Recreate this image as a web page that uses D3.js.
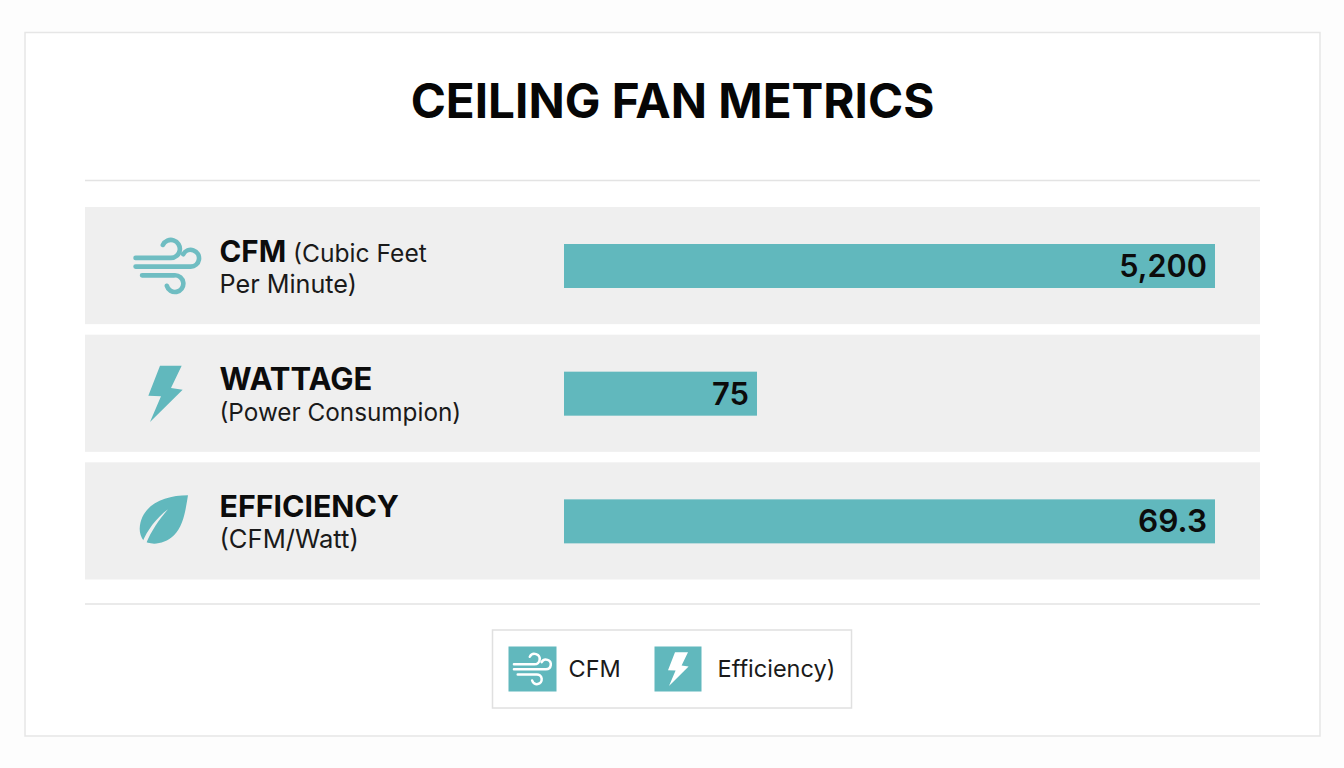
<!DOCTYPE html>
<html>
<head>
<meta charset="utf-8">
<script src="https://cdn.jsdelivr.net/npm/d3@7/dist/d3.min.js"></script>
<style>
  html, body { margin: 0; padding: 0; background: #fdfdfd; }
  svg { display: block; font-family: Inter, "Noto Sans", sans-serif; }
</style>
</head>
<body>
<svg id="chart" width="1344" height="768"></svg>
<script>
// Metric rows
const metrics = ["CFM", "WATTAGE", "EFFICIENCY"];
const values = [5200, 75, 69.3];
const valueLabels = ["5,200", "75", "69.3"];
// Each metric has its own unit, so each bar runs on its own full-scale value
const fullScale = [5200, 253, 69.3];
const headLines = ["CFM", "WATTAGE", "EFFICIENCY"];
const headTails = ["(Cubic Feet", "", ""];
const subLines = ["Per Minute)", "(Power Consumpion)", "(CFM/Watt)"];
const legendLabels = ["CFM", "Efficiency)"];
const titleText = "CEILING FAN METRICS";

const TEAL = "#61b8bd", ROW = "#efefef", RULE = "#e3e3e3", INK = "#0c0c0c";
const headSizes = [29.5, 31, 30.3], subSizes = [25.2, 24.3, 25.6], valueSizes = [30.6, 31, 31.6];

// Icon outlines, centred on their own origin
const windPath = "M-103,-26H11A29,29 0 1 0 -15,-68M-103,2H75A27,27 0 1 0 51,-38M-82,30H23A27,27 0 1 1 -2,64";
const boltPath = "M-15,-84H50L18,-17L53,-12L-45,85L-12,8L-50,6Z";
const leafPath = "M72,-75C0,-75 -70,-45 -73,25C-73,40 -68,50 -62,60C-45,75 0,75 30,45C60,15 65,-35 72,-75Z";
const leafVein = "M-66,68C-50,30 -25,-5 12,-33C-15,-2 -38,32 -54,70Z";

const svg = d3.select("#chart");

// Outer frame
svg.append("rect").attr("x", 25).attr("y", 32.5).attr("width", 1295).attr("height", 703.5)
  .attr("fill", "#ffffff").attr("stroke", "#e6e6e6").attr("stroke-width", 1.5);

svg.append("text").attr("x", 672.5).attr("y", 118).attr("text-anchor", "middle")
  .attr("font-size", 47.6).attr("font-weight", 700).attr("fill", "#060606").text(titleText);

// Rules above and below the rows
[180.5, 604].forEach(y => {
  svg.append("line").attr("x1", 85).attr("x2", 1260).attr("y1", y).attr("y2", y)
    .attr("stroke", RULE).attr("stroke-width", 1.5);
});

const y = d3.scaleBand().domain(metrics).range([207, 579.5]).paddingInner(0.0824);
const barLeft = 564, barRight = 1215, barHeight = 44;

const rows = svg.selectAll("g.row").data(metrics).join("g").attr("class", "row")
  .attr("transform", d => `translate(0,${y(d)})`);

rows.append("rect").attr("x", 85).attr("width", 1175).attr("height", y.bandwidth()).attr("fill", ROW);

rows.each(function(d, i) {
  const g = d3.select(this);
  const x = d3.scaleLinear().domain([0, fullScale[i]]).range([barLeft, barRight]);
  const end = x(values[i]);
  g.append("rect").attr("x", barLeft).attr("y", 37).attr("width", end - barLeft)
    .attr("height", barHeight).attr("fill", TEAL);
  g.append("text").attr("x", end - 8).attr("y", 70).attr("text-anchor", "end")
    .attr("font-size", valueSizes[i]).attr("font-weight", 600).attr("fill", INK).text(valueLabels[i]);

  const label = g.append("text").attr("x", 219.5).attr("y", 55)
    .attr("font-size", headSizes[i]).attr("font-weight", 700).attr("fill", INK);
  label.append("tspan").text(headLines[i]);
  if (headTails[i]) {
    label.append("tspan").attr("font-size", 24.6).attr("font-weight", 400).attr("fill", "#1a1a1a")
      .text("\u00a0" + headTails[i]);
  }
  g.append("text").attr("x", 219.5).attr("y", 86)
    .attr("font-size", subSizes[i]).attr("fill", "#1a1a1a").text(subLines[i]);
});

// Row icons
const icon = rows.append("g").attr("transform", (d, i) =>
  ["translate(167.5,59) scale(0.31)", "translate(165,59) scale(0.3333)", "translate(164,58) scale(0.3333)"][i]);
icon.filter((d, i) => i === 0).append("path").attr("d", windPath)
  .attr("fill", "none").attr("stroke", "#6fbdc2").attr("stroke-width", 15).attr("stroke-linecap", "round");
icon.filter((d, i) => i === 1).append("path").attr("d", boltPath).attr("fill", TEAL);
icon.filter((d, i) => i === 2).append("path").attr("d", leafPath).attr("fill", TEAL);
icon.filter((d, i) => i === 2).append("path").attr("d", leafVein).attr("fill", ROW);

// Legend
svg.append("rect").attr("x", 492.5).attr("y", 630).attr("width", 359).attr("height", 78)
  .attr("fill", "#ffffff").attr("stroke", "#e0e0e0").attr("stroke-width", 1.5);

const legendSwatchX = [508.5, 654.5], legendTextX = [568.5, 717.5], legendSwatchW = [48, 47];
const legend = svg.selectAll("g.key").data(legendLabels).join("g").attr("class", "key");
legend.append("rect").attr("x", (d, i) => legendSwatchX[i]).attr("y", 646.5)
  .attr("width", (d, i) => legendSwatchW[i]).attr("height", 45).attr("fill", TEAL);
legend.append("text").attr("x", (d, i) => legendTextX[i]).attr("y", 677)
  .attr("font-size", 23.5).attr("fill", "#1a1a1a").text(d => d);

legend.filter((d, i) => i === 0).append("path").attr("d", windPath)
  .attr("transform", "translate(532.5,669) scale(0.18)")
  .attr("fill", "none").attr("stroke", "#ffffff").attr("stroke-width", 14).attr("stroke-linecap", "round");
legend.filter((d, i) => i === 1).append("path").attr("d", boltPath)
  .attr("transform", "translate(678,669) scale(0.2)").attr("fill", "#ffffff");
</script>
</body>
</html>
